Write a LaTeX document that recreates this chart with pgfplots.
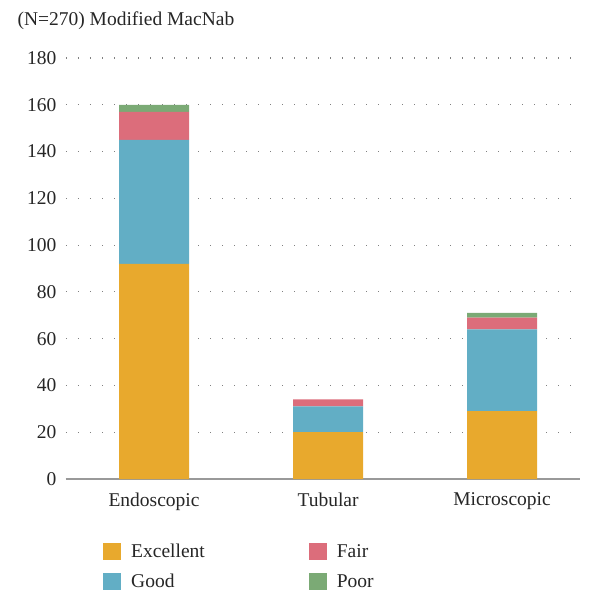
\documentclass[border=0pt]{standalone}
\usepackage{pgfplots}
\pgfplotsset{compat=1.18}
\usepackage{fontspec}
\setmainfont{Liberation Serif}

\definecolor{cExc}{HTML}{E8A92D}
\definecolor{cGood}{HTML}{62AEC5}
\definecolor{cFair}{HTML}{DC6D7B}
\definecolor{cPoor}{HTML}{7BAA75}

\begin{document}
\begin{tikzpicture}
\begin{axis}[
    scale only axis,
    width=514pt, height=421pt,
    ybar stacked,
    bar width=70pt,
    xmin=-0.506, xmax=2.448,
    ymin=0, ymax=180,
    ytick={0,20,...,180},
    xtick=data,
    xticklabels={Endoscopic,Tubular,Microscopic},
    axis x line*=bottom,
    axis y line*=left,
    y axis line style={draw=none},
    x axis line style={draw=gray!80, line width=1.6pt, -},
    ymajorgrids,
    grid style={gray, line width=1.2pt, dash pattern=on 1.2pt off 10.8pt},
    major tick length=0pt,
    tick style={draw=none},
    ticklabel style={font=\fontsize{19.5}{22}\selectfont, text=black!85},
    /pgf/number format/assume math mode=true,
    yticklabel style={anchor=east, xshift=-6pt},
    xticklabel style={yshift=-10pt},
    title={(N=270) Modified MacNab},
    title style={at={(-52pt,421pt)}, anchor=south west, yshift=19pt, font=\fontsize{19.5}{22}\selectfont, text=black!85},
    legend columns=2, transpose legend,
    legend cell align=left,
    legend style={draw=none, at={(34pt,-61pt)}, anchor=north west,
        font=\fontsize{19.5}{22}\selectfont, text=black!85, row sep=11pt,
        /tikz/every odd column/.append style={column sep=8pt},
        /tikz/every even column/.append style={column sep=102pt}},
    legend image code/.code={\fill[#1] (0pt,-8.5pt) rectangle (18pt,8.5pt);},
    enlargelimits=false,
    clip=false,
]
\addplot[fill=cExc, draw=none] coordinates {(0,92) (1,20) (2,29)};
\addplot[fill=cGood, draw=none] coordinates {(0,53) (1,11) (2,35)};
\addplot[fill=cFair, draw=none] coordinates {(0,12) (1,3) (2,5)};
\addplot[fill=cPoor, draw=none] coordinates {(0,3) (1,0) (2,2)};
\legend{Excellent,Good,Fair,Poor}
\end{axis}
\pgfresetboundingbox
\path[use as bounding box] (-66pt,-112pt) rectangle (528pt,479pt);
\end{tikzpicture}
\end{document}
